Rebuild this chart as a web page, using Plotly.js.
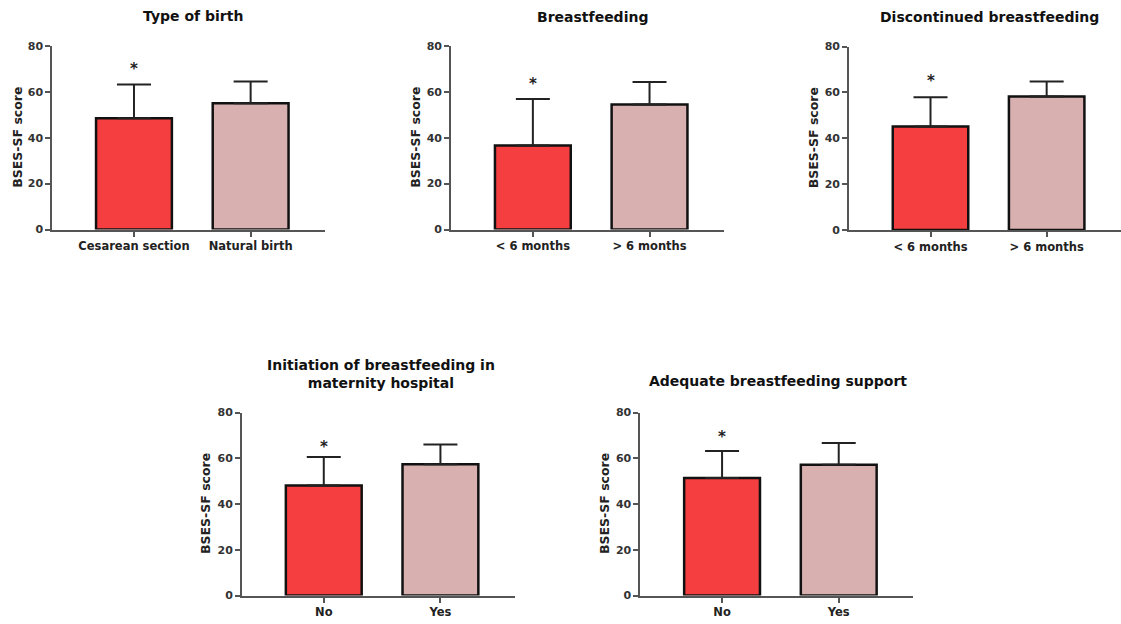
<!DOCTYPE html>
<html>
<head>
<meta charset="utf-8">
<script src="https://cdn.plot.ly/plotly-3.0.1.min.js"></script>
<style>html,body{margin:0;padding:0;background:#fff;}#chart{width:1121px;height:624px;}</style>
</head>
<body>
<div id="chart"></div>
<script>
// ---- data ----
const titles = ['Type of birth', 'Breastfeeding', 'Discontinued breastfeeding',
  'Initiation of breastfeeding in<br>maternity hospital', 'Adequate breastfeeding support'];
const categories = [
  ['Cesarean section', 'Natural birth'],
  ['< 6 months', '> 6 months'],
  ['< 6 months', '> 6 months'],
  ['No', 'Yes'],
  ['No', 'Yes']
];
const means = [[48.5, 55.0], [36.6, 54.5], [45.1, 58.2], [48.1, 57.4], [51.4, 57.2]];
const sd = [[14.7, 9.5], [20.3, 9.8], [12.8, 6.5], [12.4, 8.6], [11.8, 9.5]];
const starY = [71.3, 64.6, 66.2, 66.2, 70.8];
const yTitle = 'BSES-SF score';
const yTicks = [0, 20, 40, 60, 80];

// ---- layout geometry (pixels) ----
const W = 1121, H = 624;
const panelLeft = [52.3, 451.2, 849.2, 242.1, 640.4];
const panelWidth = 273;
const rowTop = [46, 46, 46.5, 412.5, 412.5];
const rowBottom = [229.5, 229.5, 230, 595.5, 595.5];
const titlePos = [[193, 16], [592, 17], [989, 17], [381, 374], [778, 381]];
const yTitleX = [18, 416, 813, 205, 604];

const colors = ['#F53E3F', '#D8B0B0'];
const fontFam = '"DejaVu Sans", "Liberation Sans", Arial, sans-serif';

const data = [];
const layout = {
  width: W, height: H,
  margin: {l: 0, r: 0, t: 0, b: 0},
  paper_bgcolor: '#fff', plot_bgcolor: 'rgba(0,0,0,0)',
  showlegend: false,
  font: {family: fontFam, color: '#222'},
  annotations: []
};

for (let i = 0; i < 5; i++) {
  const sfx = i === 0 ? '' : String(i + 1);
  data.push({
    type: 'bar',
    x: categories[i], y: means[i],
    xaxis: 'x' + sfx, yaxis: 'y' + sfx,
    width: [0.65, 0.65],
    marker: {color: colors, line: {color: '#111', width: 2.5}},
    error_y: {type: 'data', symmetric: false, array: sd[i], arrayminus: [0, 0],
      width: 17, thickness: 2, color: '#222'},
    hoverinfo: 'none'
  });
  const x0 = panelLeft[i] / W, x1 = (panelLeft[i] + panelWidth) / W;
  const y0 = 1 - rowBottom[i] / H, y1 = 1 - rowTop[i] / H;
  const common = {
    showline: true, linecolor: '#555', linewidth: 2,
    ticks: 'outside', ticklen: 5, tickwidth: 2, tickcolor: '#555',
    showgrid: false, zeroline: false, fixedrange: true
  };
  layout['xaxis' + sfx] = Object.assign({}, common, {
    domain: [x0, Math.min(x1, 1)], anchor: 'y' + sfx,
    type: 'category', range: [-0.7, 1.64],
    tickfont: {family: fontFam, size: 11.5, color: '#222', weight: 'bold'}
  });
  layout['yaxis' + sfx] = Object.assign({}, common, {
    domain: [y0, y1], anchor: 'x' + sfx,
    range: [0, 80], tickvals: yTicks,
    tickfont: {family: fontFam, size: 11, color: '#333', weight: 'bold'}
  });
  // significance star
  layout.annotations.push({
    xref: 'x' + sfx, yref: 'y' + sfx,
    x: categories[i][0], y: starY[i], yshift: -3,
    xanchor: 'center', yanchor: 'middle',
    text: '*', showarrow: false,
    font: {family: fontFam, size: 15, color: '#222', weight: 'bold'}
  });
  layout.annotations.push({
    xref: 'paper', yref: 'paper',
    x: titlePos[i][0] / W, y: 1 - titlePos[i][1] / H,
    xanchor: 'center', yanchor: 'middle',
    text: titles[i], showarrow: false,
    font: {family: fontFam, size: 14, color: '#111', weight: 'bold'}
  });
  layout.annotations.push({
    xref: 'paper', yref: 'paper',
    x: yTitleX[i] / W, y: 1 - ((rowTop[i] + rowBottom[i]) / 2) / H,
    xanchor: 'center', yanchor: 'middle', textangle: -90,
    text: yTitle, showarrow: false,
    font: {family: fontFam, size: 12.5, color: '#222', weight: 'bold'}
  });
}

Plotly.newPlot('chart', data, layout, {staticPlot: true, displayModeBar: false});
</script>
</body>
</html>
